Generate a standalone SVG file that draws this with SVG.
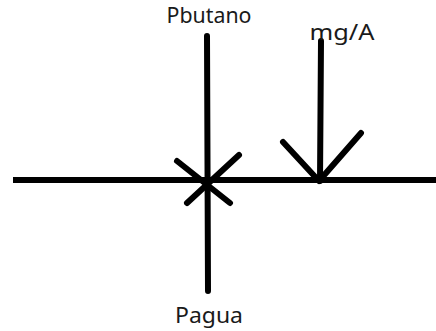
<svg xmlns="http://www.w3.org/2000/svg" width="436" height="331" viewBox="0 0 436 331">
  <style>
    .stroke { fill: none; stroke: #000; stroke-width: 6; stroke-linecap: round; stroke-linejoin: round; }
    .label { font-family: "Noto Sans", "Open Sans", sans-serif; font-size: 21px; fill: #1a1a1a; text-anchor: middle; }
  </style>
  <rect width="436" height="331" fill="#fff"/>

  <!-- base line and force vectors -->
  <g id="connectors">
    <line class="stroke" x1="13" y1="180" x2="440" y2="180" style="stroke-linecap:butt"/>
    <!-- pressure forces through the junction -->
    <line class="stroke" x1="207" y1="36" x2="208" y2="291"/>
    <line class="stroke" x1="177" y1="161" x2="230" y2="203"/>
    <line class="stroke" x1="239" y1="155" x2="187" y2="203"/>
    <!-- weight arrow -->
    <line class="stroke" x1="321" y1="41" x2="320" y2="181"/>
    <polyline class="stroke" points="283,142 319,181 361,133"/>
  </g>

  <g id="pbutano">
    <text class="label" x="209" y="23" textLength="85" lengthAdjust="spacingAndGlyphs">Pbutano</text>
  </g>
  <g id="mg-a">
    <text class="label" x="342" y="40" textLength="65" lengthAdjust="spacingAndGlyphs">mg/A</text>
  </g>
  <g id="pagua">
    <text class="label" x="209" y="323" textLength="68" lengthAdjust="spacingAndGlyphs">Pagua</text>
  </g>
</svg>
